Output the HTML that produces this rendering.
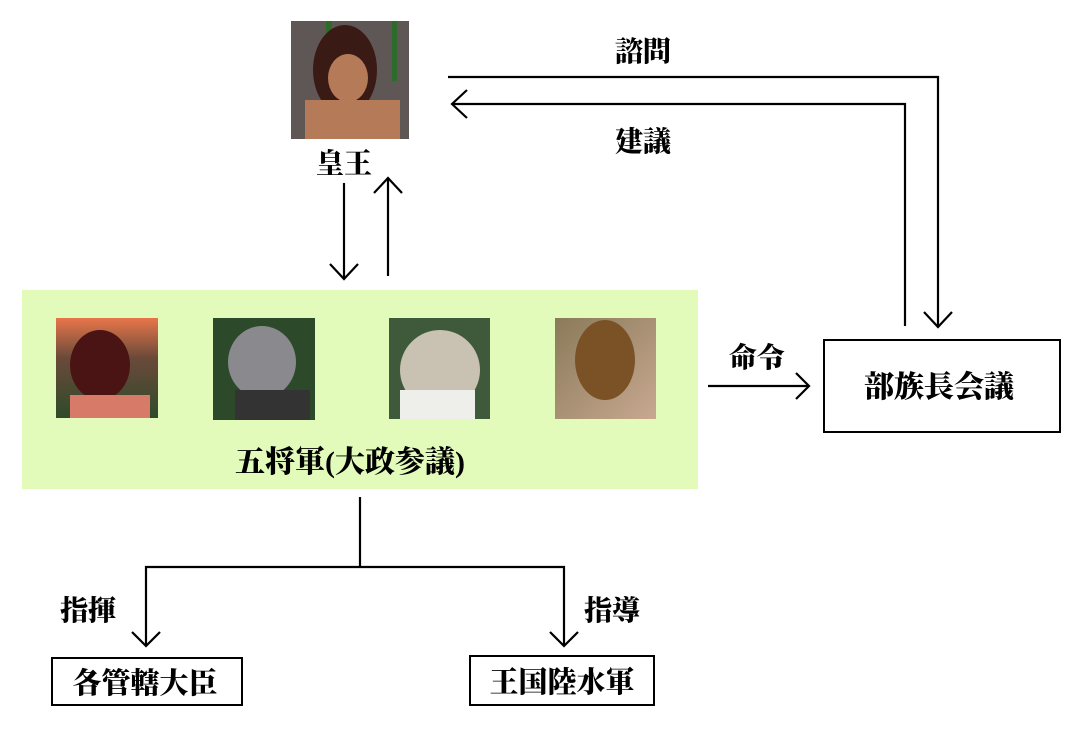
<!DOCTYPE html>
<html><head><meta charset="utf-8"><style>
html,body{margin:0;padding:0;background:#fff;}
svg text{font-family:"Liberation Serif","Noto Serif CJK JP","Noto Serif CJK SC",serif;font-weight:900;fill:#000;}
</style></head><body>
<svg width="1091" height="749" viewBox="0 0 1091 749" xmlns="http://www.w3.org/2000/svg">
<defs>
<linearGradient id="g1" x1="0" y1="0" x2="0" y2="1"><stop offset="0" stop-color="#e8764a"/><stop offset="0.4" stop-color="#6a4a3a"/><stop offset="1" stop-color="#2f4a2a"/></linearGradient>
<linearGradient id="g4" x1="0" y1="0" x2="1" y2="1"><stop offset="0" stop-color="#8a7a5a"/><stop offset="1" stop-color="#c8a890"/></linearGradient>
</defs>
<rect x="291" y="21" width="118" height="118" fill="#5f5656"/>
<rect x="326" y="21" width="6" height="40" fill="#2e6a2a"/><rect x="392" y="21" width="5" height="60" fill="#2e6a2a"/>
<ellipse cx="345" cy="70" rx="32" ry="45" fill="#3a1a14"/>
<ellipse cx="348" cy="78" rx="20" ry="24" fill="#b57a58"/>
<rect x="305" y="100" width="95" height="39" fill="#b57a58"/>
<text x="344" y="173" font-size="28" text-anchor="middle">皇王</text>
<g stroke="#000" stroke-width="2.2" fill="none">
<line x1="344" y1="183" x2="344" y2="279"/><polyline points="330,264 344,279 358,264"/>
<line x1="388" y1="276" x2="388" y2="178"/><polyline points="374,193 388,178 402,193"/>
<polyline points="448,77 938,77 938,327"/><polyline points="924,312 938,327 952,312"/>
<polyline points="905,326 905,104 452,104"/><polyline points="467,90 452,104 467,118"/>
<line x1="708" y1="386" x2="809" y2="386"/><polyline points="796,373 809,386 796,399"/>
<line x1="360" y1="497" x2="360" y2="567"/>
<polyline points="146,646 146,567 564,567 564,646"/>
<polyline points="132,632 146,646 160,632"/><polyline points="550,632 564,646 578,632"/>
</g>
<text x="643" y="61" font-size="28" text-anchor="middle">諮問</text>
<text x="643" y="151" font-size="28" text-anchor="middle">建議</text>
<text x="757" y="367" font-size="28" text-anchor="middle">命令</text>
<rect x="22" y="290" width="676" height="199" fill="#e2fbbb"/>
<rect x="56" y="318" width="102" height="100" fill="url(#g1)"/>
<ellipse cx="100" cy="365" rx="30" ry="35" fill="#4a1414"/><rect x="70" y="395" width="80" height="23" fill="#d87a68"/>
<rect x="213" y="318" width="102" height="102" fill="#2c4a2a"/>
<ellipse cx="262" cy="362" rx="34" ry="36" fill="#8a8a8e"/><rect x="235" y="390" width="75" height="30" fill="#333"/>
<rect x="389" y="318" width="101" height="101" fill="#3e5a3a"/>
<ellipse cx="440" cy="370" rx="40" ry="40" fill="#c9c2b2"/><rect x="400" y="390" width="75" height="29" fill="#eeeeea"/>
<rect x="555" y="318" width="101" height="101" fill="url(#g4)"/>
<ellipse cx="605" cy="360" rx="30" ry="40" fill="#7a5226"/>
<text x="350" y="472" font-size="30" text-anchor="middle">五将軍(大政参議)</text>
<rect x="824" y="340" width="236" height="92" fill="#fff" stroke="#000" stroke-width="2"/>
<text x="939" y="397" font-size="30" text-anchor="middle">部族長会議</text>
<text x="88" y="620" font-size="28" text-anchor="middle">指揮</text>
<text x="612" y="620" font-size="28" text-anchor="middle">指導</text>
<rect x="52" y="658" width="190" height="47" fill="#fff" stroke="#000" stroke-width="2"/>
<text x="145" y="693" font-size="29" text-anchor="middle">各管轄大臣</text>
<rect x="470" y="656" width="184" height="49" fill="#fff" stroke="#000" stroke-width="2"/>
<text x="562" y="692" font-size="29" text-anchor="middle">王国陸水軍</text>
</svg>
</body></html>
